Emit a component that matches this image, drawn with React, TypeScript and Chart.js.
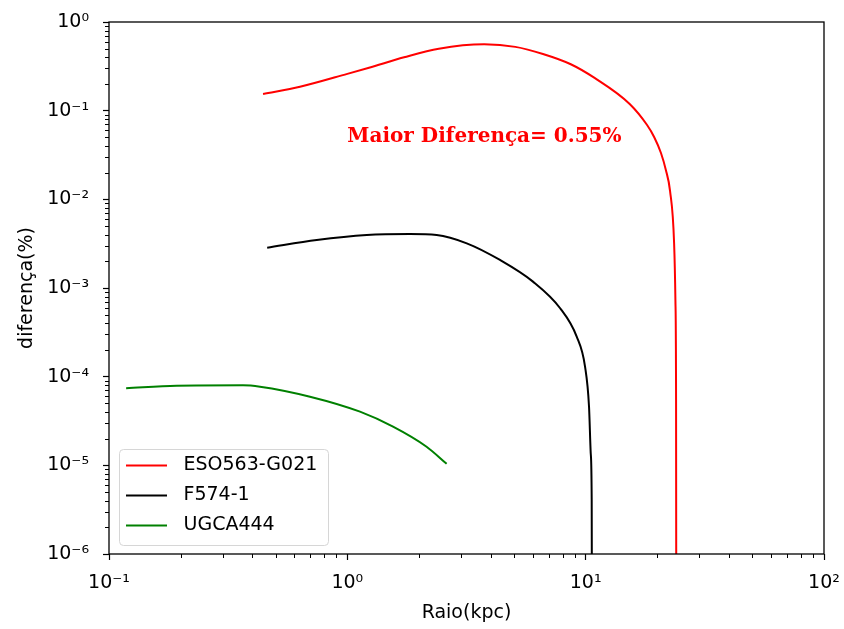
import { useEffect, useRef } from 'react';
import { Chart, registerables } from 'chart.js';

Chart.register(...registerables);

// ---------- data ----------
const redLabel = 'ESO563-G021';
const redX = [0.443, 0.633, 1.0, 1.233, 1.73, 2.42, 3.75, 5.07, 6.62, 8.66, 10.9, 15.3, 18.1, 19.4, 20.7, 21.7, 22.6, 23.5, 23.8, 23.95, 24.0];
const redY = [0.154, 0.186, 0.26, 0.305, 0.40, 0.50, 0.56, 0.524, 0.436, 0.334, 0.234, 0.119, 0.0689, 0.0502, 0.0333, 0.0214, 0.0124, 0.0032, 7.3e-4, 5.5e-5, 1e-7];

const blackLabel = 'F574-1';
const blackX = [0.461, 0.744, 1.206, 1.83, 2.37, 3.17, 4.37, 6.01, 7.8, 9.17, 9.94, 10.33, 10.5, 10.6, 10.63];
const blackY = [0.00285, 0.00348, 0.00396, 0.00406, 0.00396, 0.00319, 0.00207, 0.00118, 5.95e-4, 2.83e-4, 1.3e-4, 4.58e-5, 1.38e-5, 4.1e-6, 1e-7];

const greenLabel = 'UGCA444';
const greenX = [0.118, 0.192, 0.365, 0.43, 0.697, 1.13, 1.555, 2.15, 2.61];
const greenY = [7.4e-5, 7.91e-5, 8.0e-5, 7.71e-5, 5.95e-5, 4.03e-5, 2.73e-5, 1.62e-5, 1.04e-5];

const xMajorTicks = [0.1, 1, 10, 100];
const xTickLabels = ['10⁻¹', '10⁰', '10¹', '10²'];
const yMajorTicks = [1e-6, 1e-5, 1e-4, 1e-3, 1e-2, 1e-1, 1];
const yTickLabels = ['10⁻⁶', '10⁻⁵', '10⁻⁴', '10⁻³', '10⁻²', '10⁻¹', '10⁰'];

const xTitle = 'Raio(kpc)';
const yTitle = 'diferença(%)';
const annotText = 'Maior Diferença= 0.55%';
const annotX = 1;
const annotY = 0.044;

// ---------- helpers ----------
const FONT = 'DejaVu Sans';
const FS = 19;
const LEG_PAD = 11;

function toPoints(xs: number[], ys: number[]) {
  return xs.map((x, i) => ({ x, y: ys[i] }));
}

function lineIcon(color: string) {
  const c = document.createElement('canvas');
  c.width = 48;
  c.height = 4;
  const g = c.getContext('2d')!;
  g.strokeStyle = color;
  g.lineWidth = 2;
  g.beginPath();
  g.moveTo(0, 2);
  g.lineTo(41, 2);
  g.stroke();
  return c;
}

const decorPlugin = {
  id: 'decor',
  afterLayout(chart: any) {
    const lg = chart.legend;
    const a = chart.chartArea;
    if (lg && a) {
      lg.left = a.left + 6;
      lg.top = a.bottom - 109;
      lg.right = a.right;
      lg.bottom = a.bottom;
      lg.width = lg.right - lg.left;
      lg.height = lg.bottom - lg.top;
    }
  },
  beforeDraw(chart: any) {
    const { ctx } = chart;
    ctx.save();
    ctx.fillStyle = '#ffffff';
    ctx.fillRect(0, 0, chart.width, chart.height);
    const lg = chart.legend;
    if (lg) {
      ctx.font = `${FS}px "${FONT}"`;
      let maxW = 0;
      chart.data.datasets.forEach((d: any) => {
        maxW = Math.max(maxW, ctx.measureText(d.label).width);
      });
      const rowH = FS + LEG_PAD;
      const n = chart.data.datasets.length;
      const firstC = lg.top + LEG_PAD + FS / 2;
      const lastC = firstC + (n - 1) * rowH;
      const fx = lg.left + LEG_PAD - 7;
      const fy = firstC - 17;
      const fw = lg.left + LEG_PAD + 48 + FS / 2 + maxW + 11 - fx;
      const fh = lastC + 19 - fy;
      ctx.beginPath();
      ctx.roundRect(Math.round(fx) + 0.5, Math.round(fy) + 0.5, Math.round(fw), Math.round(fh), 4);
      ctx.fillStyle = 'rgba(255,255,255,0.8)';
      ctx.fill();
      ctx.strokeStyle = '#d6d6d6';
      ctx.lineWidth = 1;
      ctx.stroke();
    }
    ctx.restore();
  },
  afterDatasetsDraw(chart: any) {
    const { ctx, scales } = chart;
    ctx.save();
    ctx.font = `bold 20px "DejaVu Serif"`;
    ctx.fillStyle = '#ff0000';
    ctx.textBaseline = 'alphabetic';
    ctx.textAlign = 'left';
    ctx.fillText(annotText, scales.x.getPixelForValue(annotX), scales.y.getPixelForValue(annotY));
    ctx.restore();
  },
  afterDraw(chart: any) {
    const { ctx, chartArea: a, scales } = chart;
    ctx.save();
    ctx.strokeStyle = '#000';
    ctx.lineWidth = 1;
    ctx.beginPath();
    for (let e = -1; e < 2; e++) {
      for (let m = 2; m <= 9; m++) {
        const px = Math.round(scales.x.getPixelForValue(m * Math.pow(10, e))) + 0.5;
        ctx.moveTo(px, a.bottom);
        ctx.lineTo(px, a.bottom + 4);
      }
    }
    for (let e = -6; e < 0; e++) {
      for (let m = 2; m <= 9; m++) {
        const py = Math.round(scales.y.getPixelForValue(m * Math.pow(10, e))) + 0.5;
        ctx.moveTo(a.left, py);
        ctx.lineTo(a.left - 4, py);
      }
    }
    ctx.stroke();
    ctx.lineWidth = 1.3;
    ctx.strokeRect(a.left, a.top, a.right - a.left, a.bottom - a.top);
    ctx.restore();
  },
};

export default function App() {
  const ref = useRef<HTMLCanvasElement | null>(null);

  useEffect(() => {
    if (!ref.current) return;
    Chart.defaults.color = '#000';
    Chart.defaults.font.family = FONT;
    Chart.defaults.font.size = FS;

    const mk = (label: string, xs: number[], ys: number[], color: string) => ({
      label,
      data: toPoints(xs, ys),
      borderColor: color,
      backgroundColor: color,
      borderWidth: 2,
      pointRadius: 0,
      pointHoverRadius: 0,
      pointStyle: lineIcon(color),
      fill: false,
      cubicInterpolationMode: 'monotone' as const,
    });

    const chart = new Chart(ref.current, {
      type: 'line',
      data: {
        datasets: [
          mk(redLabel, redX, redY, '#ff0000'),
          mk(blackLabel, blackX, blackY, '#000000'),
          mk(greenLabel, greenX, greenY, '#008000'),
        ],
      },
      options: {
        animation: false,
        responsive: false,
        devicePixelRatio: 1,
        layout: { padding: { left: 0, top: 22, right: 20, bottom: 0 } },
        plugins: {
          legend: {
            position: 'chartArea' as any,
            align: 'start',
            labels: {
              usePointStyle: true,
              pointStyleWidth: 48,
              padding: LEG_PAD,
              color: '#000',
              font: { size: FS, family: FONT },
            },
          },
          tooltip: { enabled: false },
        },
        scales: {
          x: {
            type: 'logarithmic',
            min: 0.1,
            max: 100,
            afterBuildTicks: (scale: any) => {
              scale.ticks = xMajorTicks.map((v) => ({ value: v }));
            },
            afterFit: (scale: any) => {
              scale.height = 75;
              scale.paddingLeft = 0;
              scale.paddingRight = 0;
            },
            ticks: {
              autoSkip: false,
              maxRotation: 0,
              padding: 12,
              color: '#000',
              font: { size: FS, family: FONT },
              callback: (_v: any, i: number) => xTickLabels[i],
            },
            grid: {
              drawOnChartArea: false,
              drawTicks: true,
              tickLength: 6,
              tickColor: '#000',
              tickWidth: 1.2,
            },
            border: { display: false },
            title: {
              display: true,
              text: xTitle,
              color: '#000',
              font: { size: FS, family: FONT },
              padding: { top: 0, bottom: 5 },
            },
          },
          y: {
            type: 'logarithmic',
            min: 1e-6,
            max: 1,
            afterBuildTicks: (scale: any) => {
              scale.ticks = yMajorTicks.map((v) => ({ value: v }));
            },
            afterFit: (scale: any) => {
              scale.width = 109;
              scale.paddingTop = 0;
              scale.paddingBottom = 0;
            },
            ticks: {
              autoSkip: false,
              padding: 14,
              color: '#000',
              font: { size: FS, family: FONT },
              callback: (_v: any, i: number) => yTickLabels[i],
            },
            grid: {
              drawOnChartArea: false,
              drawTicks: true,
              tickLength: 6,
              tickColor: '#000',
              tickWidth: 1.2,
            },
            border: { display: false },
            title: {
              display: true,
              text: yTitle,
              color: '#000',
              font: { size: FS, family: FONT },
              padding: { top: 15.6, bottom: 0 },
            },
          },
        },
      },
      plugins: [decorPlugin],
    });

    return () => {
      chart.destroy();
    };
  }, []);

  return (
    <div style={{ position: 'absolute', left: 0, top: 0, width: 844, height: 629, background: '#fff' }}>
      <canvas ref={ref} width={844} height={629} style={{ width: 844, height: 629, display: 'block' }} />
    </div>
  );
}
